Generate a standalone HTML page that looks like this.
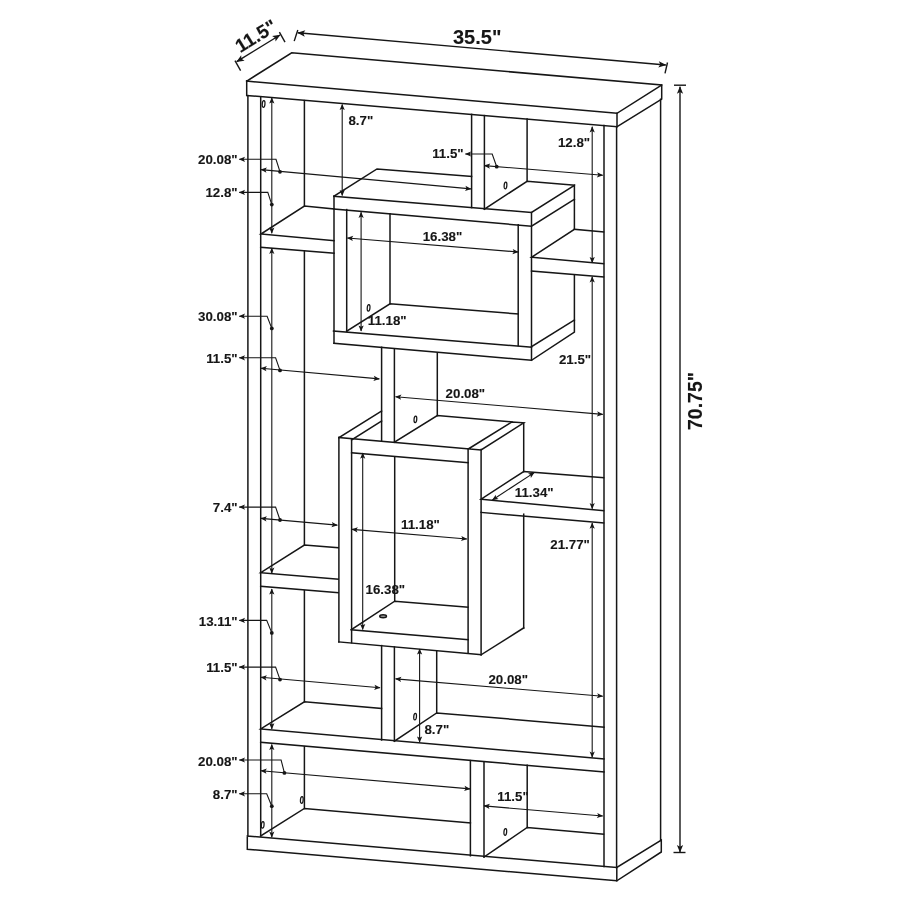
<!DOCTYPE html><html><head><meta charset="utf-8"><style>html,body{margin:0;padding:0;background:#fff;width:900px;height:900px;overflow:hidden}svg{display:block;will-change:transform}text{font-family:"Liberation Sans",sans-serif;font-weight:bold;fill:#161616;stroke:#161616;stroke-width:0.12}</style></head><body>
<svg width="900" height="900" viewBox="0 0 900 900">
<rect width="900" height="900" fill="#fff"/>
<g fill="none" stroke="#161616" stroke-width="1.5" stroke-linecap="square" stroke-linejoin="miter">
<path d="M246.7 81.1 L291.7 52.8 L661.7 85 L661.7 99.2 L617 126.7"/>
<path d="M246.7 81.1 L617 113.3 L661.7 85"/>
<path d="M246.7 81.1 L246.7 95.5 L617 126.7 L617 113.3"/>
<path d="M247.9 95.5 L247.9 836"/>
<path d="M260.7 96.8 L260.7 836"/>
<path d="M604 125.6 L604 866.5"/>
<path d="M616.6 126.7 L616.6 867.5"/>
<path d="M660.6 99.2 L660.6 840"/>
<path d="M247.3 836 L616.8 867.5 L661.3 840 L661.3 852 L616.8 880.8 L247.3 849.3 L247.3 836"/>
<path d="M616.8 867.5 L616.8 880.8"/>
<path d="M304.4 100.6 L304.4 206.2"/>
<path d="M304.4 251.1 L304.4 545.1"/>
<path d="M304.4 590.7 L304.4 701.8"/>
<path d="M304.4 746.7 L304.4 808.4"/>
<path d="M334 208.9 L304.4 206.1 L260.9 234 L334 240.6"/>
<path d="M260.7 247.3 L334 253.3"/>
<path d="M574.4 229.3 L603.5 232"/>
<path d="M574.4 229.3 L531.5 257.3 L603.5 263.6"/>
<path d="M531.5 271 L603.5 277"/>
<path d="M471.6 114.4 L471.6 207.6"/>
<path d="M484.4 115.6 L484.4 209.1"/>
<path d="M527.1 118.9 L527.1 181.3"/>
<path d="M484.4 209.1 L527.1 181.3 L574.4 185.3"/>
<path d="M334 196.2 L377 168.9 L471.6 176.4"/>
<path d="M334 196.2 L531.5 212.5 L574.4 185.3 L574.4 229.3"/>
<path d="M334 209.1 L531.5 226.2 L574.4 199.3"/>
<path d="M334 196.2 L334 343.3"/>
<path d="M346.7 209.6 L346.7 331.1"/>
<path d="M518.2 224.7 L518.2 345.6"/>
<path d="M531.5 212.5 L531.5 360.3"/>
<path d="M390 213.8 L390 303.8"/>
<path d="M346.7 331.1 L390 303.8 L518.2 314"/>
<path d="M333.5 331.1 L531.5 347.2"/>
<path d="M334 343.3 L531.5 360.3 L574.4 332.2 L574.4 274.7"/>
<path d="M531.5 346.7 L574.4 320"/>
<path d="M381.6 347.3 L381.6 441.1"/>
<path d="M394.4 348.9 L394.4 442.2"/>
<path d="M437.3 352.9 L437.3 415.6"/>
<path d="M338.9 437.6 L381.6 411.1"/>
<path d="M351.6 440 L381.6 421.1"/>
<path d="M338.9 437.6 L481.1 450 L523.7 422.8 L512 421.9 L468.1 449.1"/>
<path d="M394.4 442.2 L437.3 415.6 L512 421.9"/>
<path d="M351.6 452.8 L468.1 462.8"/>
<path d="M338.9 437.6 L338.9 641.9"/>
<path d="M351.6 440 L351.6 642.7"/>
<path d="M468.1 449.1 L468.1 653.2"/>
<path d="M481.1 449.6 L481.1 654.8"/>
<path d="M523.7 423.3 L523.7 471.5"/>
<path d="M523.7 514.2 L523.7 627.9"/>
<path d="M481.1 654.8 L523.7 627.9"/>
<path d="M394.7 457.3 L394.7 601.2"/>
<path d="M351.3 629.6 L394.7 601.2 L467.9 607.2"/>
<path d="M351.3 629.8 L468.1 639.8"/>
<path d="M338.9 641.9 L481.1 654.8"/>
<path d="M338.2 547.8 L304.4 545.1 L260.7 572.7 L338.2 579.3"/>
<path d="M260.7 586.2 L338.2 592.7"/>
<path d="M523.7 471.5 L603.6 477.8"/>
<path d="M523.7 471.5 L481.1 499.2 L603.6 510.7"/>
<path d="M481.1 512.4 L603.6 523"/>
<path d="M381.6 645.6 L381.6 740"/>
<path d="M394.4 647 L394.4 741.1"/>
<path d="M436.7 651.1 L436.7 712.9"/>
<path d="M394.4 741.1 L436.7 712.9 L604 727.1"/>
<path d="M381.6 708.4 L304.4 701.8 L260.7 728.9 L604 759"/>
<path d="M260.7 742.2 L604 772"/>
<path d="M260.7 836 L304.4 808.4 L470.4 823"/>
<path d="M470.4 760.6 L470.4 855.8"/>
<path d="M484 761.8 L484 857"/>
<path d="M527.2 765.3 L527.2 827.5"/>
<path d="M484 857 L527.2 827.5 L603.5 834.1"/>
</g>
<g fill="none" stroke="#161616" stroke-width="1.4" stroke-linecap="butt">
<path d="M297.8 32.8 L665.8 65"/>
<path d="M297.8 30 L294.2 41.1"/>
<path d="M667.5 62.5 L665 73.3"/>
<path d="M236.7 61.7 L280 35"/>
<path d="M235 60.6 L240.6 70.6"/>
<path d="M279.4 32.2 L285 42.2"/>
<path d="M680 86.7 L680 852"/>
<path d="M674 85.2 L686 85.2"/>
<path d="M673.5 852.5 L685.5 852.5"/>
</g>
<g fill="none" stroke="#161616" stroke-width="1.1" stroke-linecap="butt">
<path d="M271.8 97.8 L271.8 233.3"/>
<path d="M271.8 248.2 L271.8 573.3"/>
<path d="M271.8 588.9 L271.8 728.9"/>
<path d="M271.8 744.4 L271.8 837.3"/>
<path d="M592.2 126.7 L592.2 262.7"/>
<path d="M592.2 276.7 L592.2 508.8"/>
<path d="M592.2 523 L592.2 757.3"/>
<path d="M342.2 104.4 L342.2 195.6"/>
<path d="M361.1 212.2 L361.1 331.1"/>
<path d="M362.7 453 L362.7 629.6"/>
<path d="M419.6 648.9 L419.6 742.2"/>
<path d="M261 169.6 L470.9 188.9"/>
<path d="M484.4 165.6 L602.7 175.3"/>
<path d="M347.4 238 L518.2 252"/>
<path d="M261 368.2 L379.3 378.9"/>
<path d="M395.6 396.7 L602.7 414.4"/>
<path d="M261 518.4 L337.3 525.1"/>
<path d="M352 529.4 L466.8 539"/>
<path d="M492.4 500 L534.2 472.6"/>
<path d="M261 677.3 L380 687.8"/>
<path d="M395.6 678.9 L602.7 696.2"/>
<path d="M261 770.7 L470 788.9"/>
<path d="M484 805.9 L602.7 816"/>
<path d="M239.3 159.3 L276 159.3 L280 171.8"/>
<path d="M239.3 192.4 L267.8 192.4 L271.8 204.6"/>
<path d="M239.3 316.2 L267.1 316.2 L271.8 328.4"/>
<path d="M239.3 357.8 L275.6 357.8 L280 370.4"/>
<path d="M239.3 507.1 L275.6 507.1 L280 520"/>
<path d="M239.3 620.4 L266.7 620.4 L271.8 632.9"/>
<path d="M239.3 667.1 L275.6 667.1 L280 679.6"/>
<path d="M239.3 760 L281.1 760 L284.4 772.9"/>
<path d="M239.3 793.8 L266.7 793.8 L271.8 806.2"/>
<path d="M465.4 154 L492.2 154 L496.7 166.7"/>
</g>
<g fill="#161616" stroke="none">
<path d="M297.3 32.76 L305.31 30.19 L303.32 33.28 L304.74 36.67Z"/>
<path d="M666.3 65.04 L658.29 67.61 L660.28 64.52 L658.86 61.13Z"/>
<path d="M236.27 61.96 L241.17 55.13 L241.42 58.79 L244.58 60.66Z"/>
<path d="M280.43 34.74 L275.53 41.57 L275.28 37.91 L272.12 36.04Z"/>
<path d="M680 86.2 L683.12 93.64 L680 92 L676.88 93.64Z"/>
<path d="M680 852.5 L676.88 845.06 L680 846.7 L683.12 845.06Z"/>
<path d="M271.8 97.3 L274.4 103.5 L271.8 102.14 L269.2 103.5Z"/>
<path d="M271.8 233.8 L269.2 227.6 L271.8 228.96 L274.4 227.6Z"/>
<path d="M271.8 247.7 L274.4 253.9 L271.8 252.54 L269.2 253.9Z"/>
<path d="M271.8 573.8 L269.2 567.6 L271.8 568.96 L274.4 567.6Z"/>
<path d="M271.8 588.4 L274.4 594.6 L271.8 593.24 L269.2 594.6Z"/>
<path d="M271.8 729.4 L269.2 723.2 L271.8 724.56 L274.4 723.2Z"/>
<path d="M271.8 743.9 L274.4 750.1 L271.8 748.74 L269.2 750.1Z"/>
<path d="M271.8 837.8 L269.2 831.6 L271.8 832.96 L274.4 831.6Z"/>
<path d="M592.2 126.2 L594.8 132.4 L592.2 131.04 L589.6 132.4Z"/>
<path d="M592.2 263.2 L589.6 257 L592.2 258.36 L594.8 257Z"/>
<path d="M592.2 276.2 L594.8 282.4 L592.2 281.04 L589.6 282.4Z"/>
<path d="M592.2 509.3 L589.6 503.1 L592.2 504.46 L594.8 503.1Z"/>
<path d="M592.2 522.5 L594.8 528.7 L592.2 527.34 L589.6 528.7Z"/>
<path d="M592.2 757.8 L589.6 751.6 L592.2 752.96 L594.8 751.6Z"/>
<path d="M342.2 103.9 L344.8 110.1 L342.2 108.74 L339.6 110.1Z"/>
<path d="M342.2 196.1 L339.6 189.9 L342.2 191.26 L344.8 189.9Z"/>
<path d="M361.1 211.7 L363.7 217.9 L361.1 216.54 L358.5 217.9Z"/>
<path d="M361.1 331.6 L358.5 325.4 L361.1 326.76 L363.7 325.4Z"/>
<path d="M362.7 452.5 L365.3 458.7 L362.7 457.34 L360.1 458.7Z"/>
<path d="M362.7 630.1 L360.1 623.9 L362.7 625.26 L365.3 623.9Z"/>
<path d="M419.6 648.4 L422.2 654.6 L419.6 653.24 L417 654.6Z"/>
<path d="M419.6 742.7 L417 736.5 L419.6 737.86 L422.2 736.5Z"/>
<path d="M260.5 169.55 L266.91 167.53 L265.32 170 L266.44 172.71Z"/>
<path d="M471.4 188.95 L464.99 190.97 L466.58 188.5 L465.46 185.79Z"/>
<path d="M483.9 165.56 L490.29 163.47 L488.72 165.95 L489.87 168.66Z"/>
<path d="M603.2 175.34 L596.81 177.43 L598.38 174.95 L597.23 172.24Z"/>
<path d="M346.9 237.96 L353.29 235.87 L351.72 238.35 L352.87 241.06Z"/>
<path d="M518.7 252.04 L512.31 254.13 L513.88 251.65 L512.73 248.94Z"/>
<path d="M260.5 368.15 L266.91 366.12 L265.32 368.59 L266.44 371.3Z"/>
<path d="M379.8 378.95 L373.39 380.98 L374.98 378.51 L373.86 375.8Z"/>
<path d="M395.1 396.66 L401.5 394.59 L399.92 397.07 L401.06 399.78Z"/>
<path d="M603.2 414.44 L596.8 416.51 L598.38 414.03 L597.24 411.32Z"/>
<path d="M260.5 518.36 L266.91 516.31 L265.32 518.78 L266.45 521.49Z"/>
<path d="M337.8 525.14 L331.39 527.19 L332.98 524.72 L331.85 522.01Z"/>
<path d="M351.5 529.36 L357.9 527.28 L356.32 529.76 L357.46 532.47Z"/>
<path d="M467.3 539.04 L460.9 541.12 L462.48 538.64 L461.34 535.93Z"/>
<path d="M491.98 500.27 L495.74 494.7 L496.03 497.62 L498.59 499.05Z"/>
<path d="M534.62 472.33 L530.86 477.9 L530.57 474.98 L528.01 473.55Z"/>
<path d="M260.5 677.26 L266.91 675.21 L265.32 677.68 L266.45 680.39Z"/>
<path d="M380.5 687.84 L374.09 689.89 L375.68 687.42 L374.55 684.71Z"/>
<path d="M395.1 678.86 L401.5 676.78 L399.92 679.26 L401.06 681.97Z"/>
<path d="M603.2 696.24 L596.8 698.32 L598.38 695.84 L597.24 693.13Z"/>
<path d="M260.5 770.66 L266.9 768.6 L265.32 771.08 L266.45 773.78Z"/>
<path d="M470.5 788.94 L464.1 791 L465.68 788.52 L464.55 785.82Z"/>
<path d="M483.5 805.86 L489.9 803.79 L488.32 806.27 L489.46 808.97Z"/>
<path d="M603.2 816.04 L596.8 818.11 L598.38 815.63 L597.24 812.93Z"/>
<path d="M238.8 159.3 L245 156.7 L243.64 159.3 L245 161.9Z"/>
<path d="M238.8 192.4 L245 189.8 L243.64 192.4 L245 195Z"/>
<path d="M238.8 316.2 L245 313.6 L243.64 316.2 L245 318.8Z"/>
<path d="M238.8 357.8 L245 355.2 L243.64 357.8 L245 360.4Z"/>
<path d="M238.8 507.1 L245 504.5 L243.64 507.1 L245 509.7Z"/>
<path d="M238.8 620.4 L245 617.8 L243.64 620.4 L245 623Z"/>
<path d="M238.8 667.1 L245 664.5 L243.64 667.1 L245 669.7Z"/>
<path d="M238.8 760 L245 757.4 L243.64 760 L245 762.6Z"/>
<path d="M238.8 793.8 L245 791.2 L243.64 793.8 L245 796.4Z"/>
<path d="M464.9 154 L471.1 151.4 L469.74 154 L471.1 156.6Z"/>
<circle cx="280" cy="171.8" r="1.9"/>
<circle cx="271.8" cy="204.6" r="1.9"/>
<circle cx="271.8" cy="328.4" r="1.9"/>
<circle cx="280" cy="370.4" r="1.9"/>
<circle cx="280" cy="520" r="1.9"/>
<circle cx="271.8" cy="632.9" r="1.9"/>
<circle cx="280" cy="679.6" r="1.9"/>
<circle cx="284.4" cy="772.9" r="1.9"/>
<circle cx="271.8" cy="806.2" r="1.9"/>
<circle cx="496.7" cy="166.7" r="1.9"/>
<ellipse cx="383.1" cy="616.3" rx="3.4" ry="1.5" fill="#999" stroke="#161616" stroke-width="1.4"/>
</g>
<text x="237.6" y="164" font-size="13.3" text-anchor="end">20.08&quot;</text>
<text x="237.6" y="197.3" font-size="13.3" text-anchor="end">12.8&quot;</text>
<text x="237.6" y="321.1" font-size="13.3" text-anchor="end">30.08&quot;</text>
<text x="237.6" y="362.9" font-size="13.3" text-anchor="end">11.5&quot;</text>
<text x="237.6" y="512.2" font-size="13.3" text-anchor="end">7.4&quot;</text>
<text x="237.6" y="625.6" font-size="13.3" text-anchor="end">13.11&quot;</text>
<text x="237.6" y="672.2" font-size="13.3" text-anchor="end">11.5&quot;</text>
<text x="237.6" y="765.6" font-size="13.3" text-anchor="end">20.08&quot;</text>
<text x="237.6" y="798.9" font-size="13.3" text-anchor="end">8.7&quot;</text>
<text x="348.4" y="124.8" font-size="13.3" text-anchor="start">8.7&quot;</text>
<text x="432.2" y="158.1" font-size="13.3" text-anchor="start">11.5&quot;</text>
<text x="557.9" y="147" font-size="13.3" text-anchor="start">12.8&quot;</text>
<text x="422.7" y="241" font-size="13.3" text-anchor="start">16.38&quot;</text>
<text x="367.8" y="325.2" font-size="13.3" text-anchor="start">11.18&quot;</text>
<text x="558.9" y="363.6" font-size="13.3" text-anchor="start">21.5&quot;</text>
<text x="445.6" y="398.1" font-size="13.3" text-anchor="start">20.08&quot;</text>
<text x="514.8" y="497.3" font-size="13.3" text-anchor="start">11.34&quot;</text>
<text x="401" y="529.3" font-size="13.3" text-anchor="start">11.18&quot;</text>
<text x="550.3" y="548.9" font-size="13.3" text-anchor="start">21.77&quot;</text>
<text x="365.5" y="594" font-size="13.3" text-anchor="start">16.38&quot;</text>
<text x="488.4" y="684.1" font-size="13.3" text-anchor="start">20.08&quot;</text>
<text x="424.4" y="733.6" font-size="13.3" text-anchor="start">8.7&quot;</text>
<text x="497.3" y="800.5" font-size="13.3" text-anchor="start">11.5&quot;</text>
<text x="453" y="43.5" font-size="20">35.5&quot;</text>
<text transform="translate(702.2,430) rotate(-90)" font-size="19.5">70.75&quot;</text>
<text transform="translate(240.2,53.3) rotate(-31.6)" font-size="19">11.5&quot;</text>
<ellipse cx="263.6" cy="104" rx="1.35" ry="3.3" transform="rotate(5 263.6 104)" fill="none" stroke="#161616" stroke-width="1.25"/>
<ellipse cx="505.5" cy="185.5" rx="1.35" ry="3.3" transform="rotate(5 505.5 185.5)" fill="none" stroke="#161616" stroke-width="1.25"/>
<ellipse cx="368.6" cy="307.8" rx="1.35" ry="3.3" transform="rotate(5 368.6 307.8)" fill="none" stroke="#161616" stroke-width="1.25"/>
<ellipse cx="415.4" cy="419.3" rx="1.35" ry="3.3" transform="rotate(5 415.4 419.3)" fill="none" stroke="#161616" stroke-width="1.25"/>
<ellipse cx="415.1" cy="716.7" rx="1.35" ry="3.3" transform="rotate(5 415.1 716.7)" fill="none" stroke="#161616" stroke-width="1.25"/>
<ellipse cx="301.8" cy="800" rx="1.35" ry="3.3" transform="rotate(5 301.8 800)" fill="none" stroke="#161616" stroke-width="1.25"/>
<ellipse cx="262.7" cy="824.9" rx="1.35" ry="3.3" transform="rotate(5 262.7 824.9)" fill="none" stroke="#161616" stroke-width="1.25"/>
<ellipse cx="505.3" cy="832" rx="1.35" ry="3.3" transform="rotate(5 505.3 832)" fill="none" stroke="#161616" stroke-width="1.25"/>
</svg></body></html>
